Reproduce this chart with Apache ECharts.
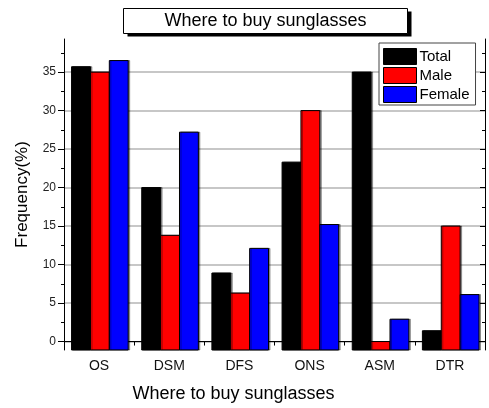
<!DOCTYPE html>
<html>
<head>
<meta charset="utf-8">
<style>
  html, body { margin: 0; padding: 0; background: #fff; }
  #chart { width: 489px; height: 408px; }
</style>
<script src="https://cdn.jsdelivr.net/npm/echarts@6/dist/echarts.min.js"></script>
</head>
<body>
<div id="chart"></div>
<script>
// Purchase channels and share of respondents (%) per group
const categories = ['OS', 'DSM', 'DFS', 'ONS', 'ASM', 'DTR'];
const totalValues  = [35.7, 20.0, 8.9, 23.3, 35.0, 1.4];
const maleValues   = [35.0, 13.8, 6.3, 30.0, 0.0, 15.0];
const femaleValues = [36.5, 27.2, 12.1, 15.2, 2.9, 6.1];

const seriesNames = ['Total', 'Male', 'Female'];
const seriesColors = ['#000000', '#ff0000', '#0000ff'];

// Y axis ticks
const yMajorTicks = [0, 5, 10, 15, 20, 25, 30, 35];
const yMinorTicks = [2.5, 7.5, 12.5, 17.5, 22.5, 27.5, 32.5, 37.5];
const Y_MIN = -1.1;
const Y_MAX = 39.3;

const FONT = 'Arial, "Liberation Sans", sans-serif';
const TITLE = 'Where to buy sunglasses';

const chart = echarts.init(document.getElementById('chart'), null, { renderer: 'canvas' });

// Bars rise from the bottom of the frame (axis minimum) to their value
function makeBarRenderer(slot) {
  return function (params, api) {
    const cat = api.value(0);
    const val = api.value(1);
    const band = api.size([1, 0])[0];
    const barW = band * 0.269;
    const top = api.coord([cat, val]);
    const base = api.coord([cat, Y_MIN]);
    const x = top[0] + (slot - 1) * barW - barW / 2 + 0.8;
    return {
      type: 'rect',
      shape: { x: x, y: top[1], width: barW, height: base[1] - top[1] },
      style: {
        fill: seriesColors[slot],
        stroke: '#000',
        lineWidth: 1,
        shadowColor: 'rgba(0,0,0,0.35)',
        shadowOffsetX: 1.5,
        shadowOffsetY: 0,
        shadowBlur: 0
      }
    };
  };
}

const seriesValues = [totalValues, maleValues, femaleValues];
const series = seriesValues.map(function (vals, i) {
  return {
    name: seriesNames[i],
    type: 'custom',
    xAxisIndex: 0,
    yAxisIndex: 0,
    renderItem: makeBarRenderer(i),
    itemStyle: { color: seriesColors[i] },
    encode: { x: 0, y: 1 },
    data: vals.map(function (v, k) { return [k, v]; }),
    z: 3
  };
});

function yAxisBase(position) {
  return {
    type: 'value',
    position: position,
    min: Y_MIN,
    max: Y_MAX,
    splitNumber: 8,
    axisLine: { show: true, lineStyle: { color: '#000', width: 1 } },
    axisLabel: { show: false },
    splitLine: { show: false }
  };
}

const option = {
  animation: false,
  backgroundColor: '#fff',
  // boxed title with a solid drop shadow
  graphic: [
    {
      type: 'group',
      left: 123,
      top: 8,
      children: [
        { type: 'rect', shape: { x: 4, y: 3, width: 284, height: 25 }, style: { fill: '#000' } },
        { type: 'rect', shape: { x: 0, y: 0, width: 284, height: 25 }, style: { fill: '#fff', stroke: '#000', lineWidth: 1 } },
        {
          type: 'text',
          x: 142,
          y: 13,
          style: {
            text: TITLE,
            fill: '#000',
            font: '18px ' + FONT,
            align: 'center',
            verticalAlign: 'middle'
          }
        }
      ]
    }
  ],
  legend: {
    data: seriesNames.map(function (n, i) {
      return { name: n, icon: 'rect', itemStyle: { color: seriesColors[i], borderColor: '#000', borderWidth: 1 } };
    }),
    orient: 'vertical',
    left: 379,
    top: 43,
    padding: [5, 6, 2, 4],
    itemWidth: 33,
    itemHeight: 16,
    itemGap: 2,
    backgroundColor: '#fff',
    borderColor: '#444',
    borderWidth: 1,
    selectedMode: false,
    textStyle: { fontFamily: FONT, fontSize: 15, color: '#000', padding: [0, 0, 0, -2] },
    z: 10
  },
  grid: { left: 64, right: 4, top: 39, bottom: 55, containLabel: false },
  xAxis: [
    {
      // bottom: category labels with centre ticks
      type: 'category',
      position: 'bottom',
      data: categories,
      axisLine: { show: true, lineStyle: { color: '#000', width: 1 } },
      axisTick: { show: true, alignWithLabel: true, length: 6, lineStyle: { color: '#000' } },
      axisLabel: { fontFamily: FONT, fontSize: 14, color: '#111', margin: 9 },
      name: TITLE,
      nameLocation: 'middle',
      nameGap: 35,
      nameTextStyle: { fontFamily: FONT, fontSize: 18, color: '#000', padding: [0, 82, 0, 0] },
      splitLine: { show: false }
    },
    {
      // bottom: boundary ticks
      type: 'category',
      position: 'bottom',
      data: categories,
      axisLine: { show: false },
      axisTick: { show: true, length: 3, lineStyle: { color: '#000' } },
      axisLabel: { show: false },
      splitLine: { show: false }
    },
    {
      // top frame: centre ticks pointing inward
      type: 'category',
      position: 'top',
      data: categories,
      axisLine: { show: true, lineStyle: { color: '#000', width: 1 } },
      axisTick: { show: true, alignWithLabel: true, inside: true, length: 5, lineStyle: { color: '#000' } },
      axisLabel: { show: false },
      splitLine: { show: false }
    },
    {
      // top frame: boundary ticks pointing inward
      type: 'category',
      position: 'top',
      data: categories,
      axisLine: { show: false },
      axisTick: { show: true, inside: true, length: 4, lineStyle: { color: '#000' } },
      axisLabel: { show: false },
      splitLine: { show: false }
    }
  ],
  yAxis: [
    Object.assign(yAxisBase('left'), {
      name: 'Frequency(%)',
      nameLocation: 'middle',
      nameGap: 33,
      nameTextStyle: { fontFamily: FONT, fontSize: 17, color: '#000' },
      axisTick: { show: true, length: 6, customValues: yMajorTicks, lineStyle: { color: '#000' } },
      axisLabel: { show: true, customValues: yMajorTicks, fontFamily: FONT, fontSize: 12, color: '#222', margin: 8 },
      splitLine: { show: true, lineStyle: { color: '#b4b4b4', width: 1.5 } }
    }),
    Object.assign(yAxisBase('left'), {
      axisLine: { show: false },
      axisTick: { show: true, length: 3, customValues: yMinorTicks, lineStyle: { color: '#000' } }
    }),
    Object.assign(yAxisBase('right'), {
      axisTick: { show: true, inside: true, length: 5, customValues: yMajorTicks, lineStyle: { color: '#000' } }
    }),
    Object.assign(yAxisBase('right'), {
      axisLine: { show: false },
      axisTick: { show: true, inside: true, length: 3, customValues: yMinorTicks, lineStyle: { color: '#000' } }
    })
  ],
  series: series
};

chart.setOption(option);
</script>
</body>
</html>
